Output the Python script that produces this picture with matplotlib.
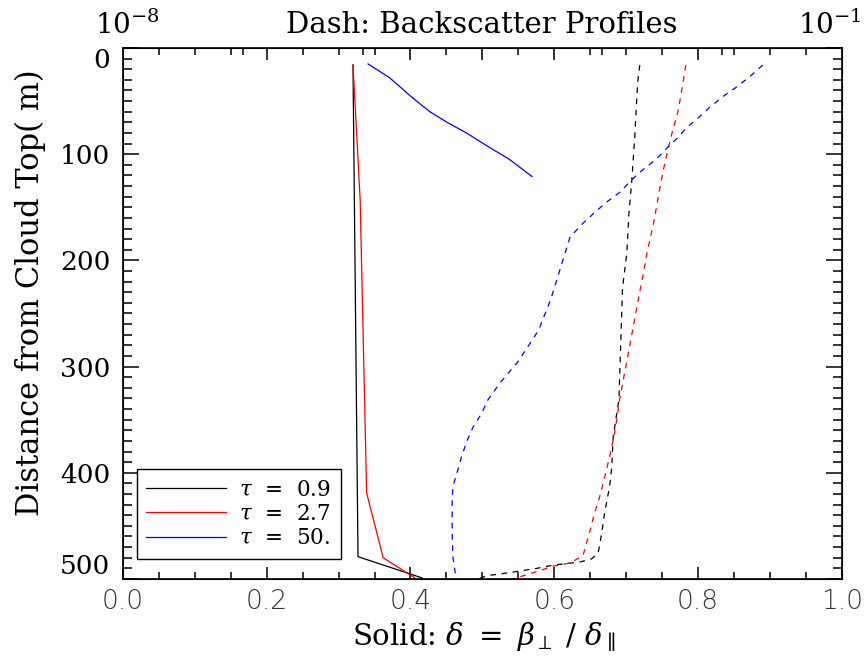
import numpy as np
import matplotlib
matplotlib.use("Agg")
import matplotlib.pyplot as plt
from matplotlib.ticker import MultipleLocator, FixedLocator

plt.rcParams["mathtext.fontset"] = "dejavuserif"

# Solid profiles: depolarisation ratio vs distance from cloud top (m)
black_solid_depth = [16, 479, 499]
black_solid_val = [0.320, 0.327, 0.416]

red_solid_depth = [16, 143, 419, 480, 499]
red_solid_val = [0.320, 0.330, 0.339, 0.362, 0.406]

blue_solid_depth = [15, 28, 47, 60, 70, 80, 92, 105, 121]
blue_solid_val = [0.341, 0.371, 0.403, 0.427, 0.451, 0.478, 0.506, 0.538, 0.569]

# Dashed profiles: backscatter (top log axis, drawn on the same 0-1 frame)
black_dash_depth = [16, 33, 84, 124, 155, 193, 226, 331, 366, 395, 413, 438, 457,
                    476, 481, 484, 487, 490, 494, 497, 500]
black_dash_val = [0.719, 0.716, 0.712, 0.708, 0.704, 0.701, 0.695, 0.690, 0.682,
                  0.680, 0.677, 0.670, 0.666, 0.661, 0.652, 0.636, 0.598, 0.576,
                  0.538, 0.506, 0.494]

red_dash_depth = [16, 33, 49, 63, 77, 96, 108, 121, 143, 162, 181, 193, 216, 226,
                  331, 350, 366, 385, 399, 423, 438, 454, 466, 478, 485, 488, 493,
                  498, 501]
red_dash_val = [0.783, 0.779, 0.775, 0.771, 0.765, 0.758, 0.754, 0.750, 0.744,
                0.739, 0.733, 0.729, 0.723, 0.720, 0.691, 0.687, 0.683, 0.677,
                0.672, 0.663, 0.656, 0.650, 0.645, 0.640, 0.622, 0.598, 0.576,
                0.552, 0.538]

blue_dash_depth = [16, 27, 38, 46, 56, 66, 75, 85, 94, 104, 117, 126, 136, 145,
                   155, 165, 178, 237, 266, 295, 315, 331, 344, 357, 371, 385,
                   397, 413, 426, 457, 479, 498]
blue_dash_val = [0.890, 0.872, 0.851, 0.834, 0.816, 0.800, 0.784, 0.771, 0.757,
                 0.743, 0.719, 0.705, 0.691, 0.673, 0.656, 0.640, 0.622, 0.595,
                 0.578, 0.550, 0.525, 0.508, 0.499, 0.487, 0.478, 0.471, 0.466,
                 0.459, 0.458, 0.458, 0.459, 0.463]

legend_labels = [r"$\tau$  =  0.9", r"$\tau$  =  2.7", r"$\tau$  =  50."]
x_ticks = [0.0, 0.2, 0.4, 0.6, 0.8, 1.0]
y_ticks = [0, 100, 200, 300, 400, 500]

serif = "DejaVu Serif"

fig = plt.figure(figsize=(8.66, 6.67), dpi=100)
ax = fig.add_axes([0.142, 0.132, 0.830, 0.796])

dash = (0, (4.5, 4.5))
ax.plot(black_solid_val, black_solid_depth, color="black", lw=0.9, label=legend_labels[0])
ax.plot(red_solid_val, red_solid_depth, color="red", lw=0.9, label=legend_labels[1])
ax.plot(blue_solid_val, blue_solid_depth, color="blue", lw=0.9, label=legend_labels[2])
ax.plot(black_dash_val, black_dash_depth, color="black", lw=0.9, ls=dash)
ax.plot(red_dash_val, red_dash_depth, color="red", lw=0.9, ls=dash)
ax.plot(blue_dash_val, blue_dash_depth, color="blue", lw=0.9, ls=dash)

ax.set_xlim(0, 1)
ax.set_ylim(500, 0)

ax.set_xticks(x_ticks)
ax.set_xticklabels([f"{v:.1f}" for v in x_ticks], family="DejaVu Sans",
                   weight="light", fontsize=19, color="#333333")
ax.xaxis.set_minor_locator(MultipleLocator(0.05))
ax.set_yticks(y_ticks)
ylabels = ax.set_yticklabels([str(v) for v in y_ticks], family=serif, fontsize=19)
ylabels[0].set_va("top")
ylabels[-1].set_va("bottom")
ax.yaxis.set_minor_locator(MultipleLocator(10))

ax.tick_params(axis="x", which="major", direction="in", length=8.5, width=1.1, pad=7)
ax.tick_params(axis="x", which="minor", direction="in", length=5, width=1.1)
ax.tick_params(axis="x", top=False)
ax.tick_params(axis="y", which="major", direction="in", length=11.5, width=1.1,
               pad=9, right=True)
ax.tick_params(axis="y", which="minor", direction="in", length=6.2, width=1.1, right=True)
for s in ax.spines.values():
    s.set_linewidth(1.2)

# top axis (IDL log axis, only end labels shown)
top = ax.twiny()
top.set_xlim(0, 1)
top.xaxis.set_major_locator(FixedLocator([0.2, 0.4, 0.5, 0.6, 0.8]))
top.xaxis.set_minor_locator(FixedLocator([0.05, 0.1, 0.15, 1 / 6, 0.25, 0.3, 1 / 3,
                                          0.35, 0.45, 0.55, 0.65, 2 / 3, 0.7, 0.75,
                                          5 / 6, 0.85, 0.9, 0.95]))
top.tick_params(axis="x", which="major", direction="in", length=8.5, width=1.1,
                labeltop=False)
top.tick_params(axis="x", which="minor", direction="in", length=5, width=1.1)
ax.text(-0.039, 1.015, r"$10^{-8}$", transform=ax.transAxes, ha="left", va="bottom",
        fontsize=20)
ax.text(1.028, 1.015, r"$10^{-1}$", transform=ax.transAxes, ha="right", va="bottom",
        fontsize=20)

fig.text(0.556, 0.962, "Dash: Backscatter Profiles", ha="center", va="center",
         family=serif, fontsize=21)
fig.text(0.035, 0.561, "Distance from Cloud Top( m)", rotation=90, ha="center",
         va="center", family=serif, fontsize=22)
fig.text(0.559, 0.045, r"Solid: $\delta\ =\ \beta_{\perp}\ /\ \delta_{\parallel}$",
         ha="center", va="center", family=serif, fontsize=21)

leg = ax.legend(loc="lower left", bbox_to_anchor=(0.019, 0.038), borderaxespad=0,
                prop={"family": serif, "size": 15.5}, handlelength=3.7,
                fancybox=False, framealpha=1, edgecolor="black",
                borderpad=0.45, labelspacing=0.1, handletextpad=0.6)
leg.get_frame().set_linewidth(1.0)

fig.savefig("out.png", dpi=100)
